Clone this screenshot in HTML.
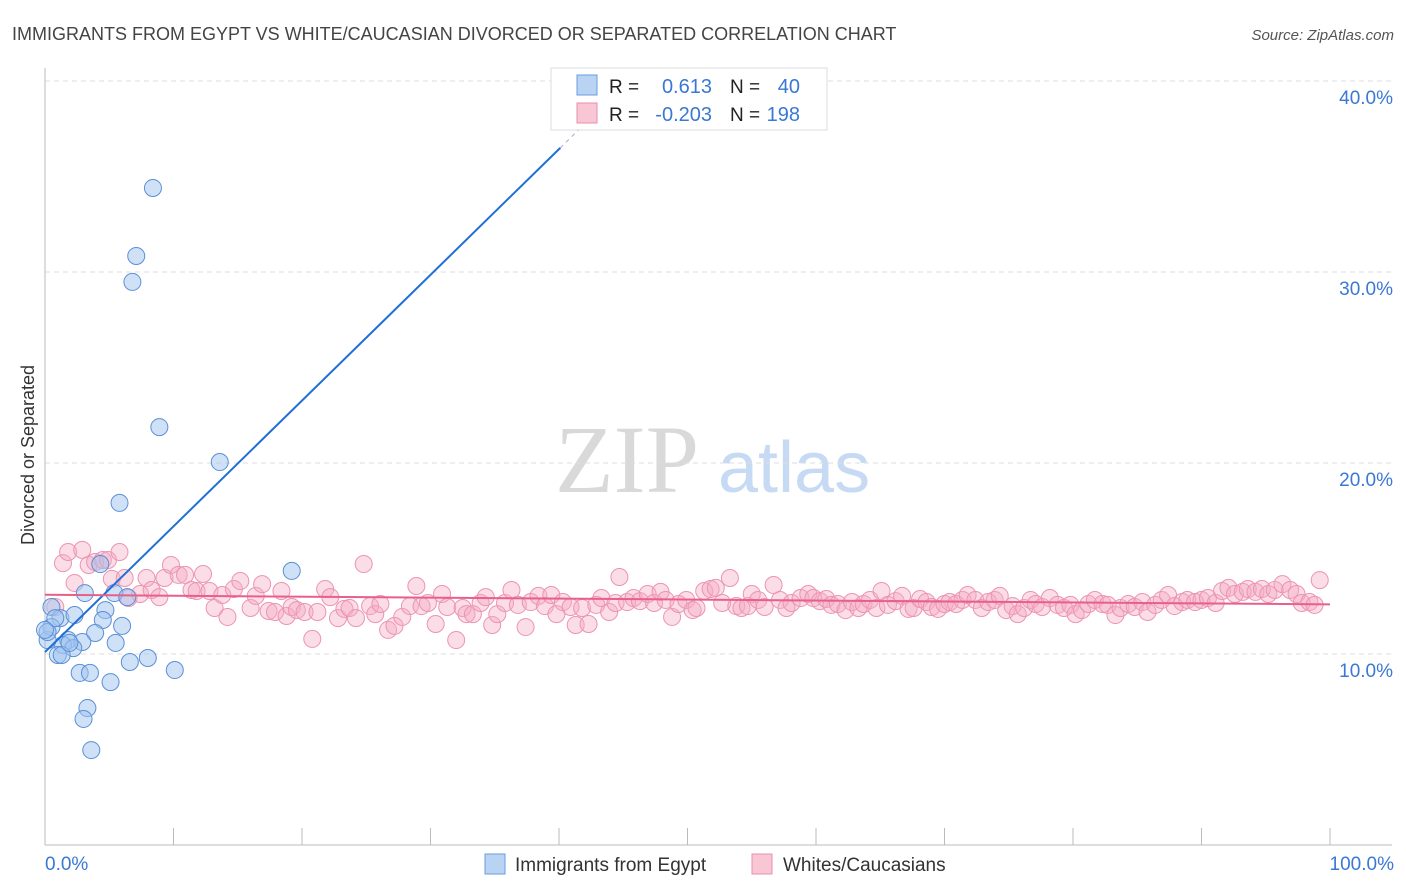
<!DOCTYPE html>
<html><head><meta charset="utf-8"><style>
body{margin:0;background:#fff;}
svg{display:block;font-family:"Liberation Sans",sans-serif;}
</style></head><body>
<svg id="chart" width="1406" height="892" viewBox="0 0 1406 892">
<text x="12" y="40" font-size="18" fill="#444">IMMIGRANTS FROM EGYPT VS WHITE/CAUCASIAN DIVORCED OR SEPARATED CORRELATION CHART</text>
<text x="1394" y="40" font-size="15" fill="#555" font-style="italic" text-anchor="end">Source: ZipAtlas.com</text>
<g>
<text x="555" y="492" font-size="96" font-family="Liberation Serif,serif" fill="#d9d9d9">ZIP</text>
<text x="718" y="492" font-size="72" fill="#c6daf3">atlas</text>
</g>
<g id="grid"></g>
<g id="axes"></g>
<text transform="translate(34,455) rotate(-90)" font-size="18" fill="#333" text-anchor="middle">Divorced or Separated</text>
<g id="pink"></g>
<g id="blue"></g>
<g id="lines"></g>
<g>
<rect x="551" y="68" width="276" height="62" fill="#fff" stroke="#ddd"/>
<rect x="577" y="75" width="20" height="20" fill="#b9d3f3" stroke="#6b9be0"/>
<rect x="577" y="103" width="20" height="20" fill="#f9c6d6" stroke="#ea8fad"/>
<text x="609" y="93" font-size="19" fill="#222">R = </text><text x="712" y="93" font-size="20" fill="#3a78d4" text-anchor="end">0.613</text>
<text x="730" y="93" font-size="19" fill="#222">N = </text><text x="800" y="93" font-size="20" fill="#3a78d4" text-anchor="end">40</text>
<text x="609" y="121" font-size="19" fill="#222">R = </text><text x="712" y="121" font-size="20" fill="#3a78d4" text-anchor="end">-0.203</text>
<text x="730" y="121" font-size="19" fill="#222">N = </text><text x="800" y="121" font-size="20" fill="#3a78d4" text-anchor="end">198</text>
</g>
<g>
<rect x="485" y="854" width="20" height="20" fill="#b9d3f3" stroke="#6b9be0"/>
<text x="515" y="871" font-size="19" fill="#333">Immigrants from Egypt</text>
<rect x="752" y="854" width="20" height="20" fill="#f9c6d6" stroke="#ea8fad"/>
<text x="783" y="871" font-size="19" fill="#333">Whites/Caucasians</text>
</g>
</svg>
<script>
const yTicks=[10,20,30,40];
const yTickLabels=["10.0%","20.0%","30.0%","40.0%"];
const xTickLabels=["0.0%","100.0%"];
const blueX=[8.4,7.1,6.8,8.9,13.6,5.8,19.2,4.3,3.1,5.4,0.5,6.4,4.7,1.2,2.3,4.5,6.0,3.9,1.8,2.9,1.4,2.2,0.2,1.0,5.5,1.3,6.6,8.0,10.1,2.7,3.5,5.1,3.3,3.0,3.6,0.5,0.2,0.8,0.0,1.9];
const blueY=[34.40,30.84,29.48,21.88,20.05,17.91,14.35,14.71,13.19,13.19,12.46,12.98,12.30,11.88,12.04,11.78,11.47,11.10,10.73,10.63,10.47,10.31,10.73,9.95,10.58,9.95,9.58,9.79,9.16,9.01,9.01,8.53,7.17,6.60,4.97,11.41,11.15,11.88,11.26,10.58];
const pinkX=[0.8,1.4,1.8,2.3,2.9,3.4,3.9,4.5,4.9,5.2,5.8,6.2,6.5,7.4,7.9,8.3,8.9,9.3,9.8,10.4,10.9,11.4,11.8,12.3,12.8,13.2,13.8,14.2,14.7,15.2,16.0,16.4,16.9,17.4,17.9,18.4,18.8,19.2,19.6,20.2,20.8,21.2,21.8,22.2,22.8,23.3,23.7,24.2,24.8,25.3,25.7,26.1,26.7,27.2,27.8,28.4,28.9,29.3,29.8,30.4,30.9,31.3,32.0,32.5,32.8,33.3,33.9,34.3,34.8,35.2,35.8,36.3,36.8,37.4,37.8,38.4,38.9,39.4,39.8,40.3,40.9,41.3,41.8,42.3,42.9,43.3,43.9,44.4,44.7,45.3,45.8,46.3,46.9,47.4,47.9,48.3,48.8,49.3,49.9,50.4,50.7,51.3,51.8,52.2,52.7,53.3,53.8,54.2,54.7,55.0,55.5,56.0,56.7,57.2,57.7,58.1,58.8,59.4,59.8,60.3,60.8,61.2,61.7,62.3,62.8,63.3,63.7,64.2,64.7,65.1,65.6,66.2,66.7,67.2,67.6,68.1,68.6,69.0,69.5,70.0,70.4,70.9,71.4,71.8,72.4,72.9,73.4,73.9,74.3,74.8,75.3,75.7,76.2,76.7,77.1,77.6,78.2,78.8,79.3,79.8,80.2,80.7,81.2,81.7,82.3,82.7,83.3,83.7,84.3,84.8,85.4,85.8,86.4,86.9,87.4,87.9,88.5,88.9,89.5,90.0,90.5,91.1,91.6,92.1,92.6,93.2,93.6,94.2,94.7,95.2,95.7,96.3,96.9,97.4,97.8,98.4,98.8,99.2];
const pinkY=[12.46,14.76,15.34,13.72,15.45,14.66,14.82,14.92,14.92,13.93,15.34,13.98,12.93,13.14,13.98,13.35,12.98,13.98,14.66,14.14,14.14,13.35,13.30,14.19,13.30,12.41,13.09,11.94,13.40,13.82,12.41,13.04,13.66,12.25,12.20,13.30,11.99,12.46,12.30,12.20,10.79,12.20,13.40,12.98,11.88,12.36,12.41,11.88,14.71,12.51,12.09,12.62,11.26,11.47,11.94,12.51,13.56,12.51,12.67,11.57,13.14,12.46,10.73,12.41,12.09,12.09,12.67,12.98,11.52,12.09,12.67,13.35,12.57,11.41,12.72,13.04,12.51,13.09,12.09,12.72,12.46,11.52,12.41,11.57,12.57,12.93,12.20,12.67,14.03,12.72,12.93,12.77,13.14,12.67,13.25,12.83,11.94,12.62,12.83,12.30,12.41,13.30,13.40,13.46,12.67,13.98,12.51,12.41,12.51,13.14,12.83,12.46,13.61,12.83,12.41,12.67,12.93,13.14,12.93,12.77,12.88,12.57,12.62,12.30,12.72,12.41,12.62,12.83,12.41,13.30,12.57,12.77,13.04,12.36,12.41,12.88,12.72,12.46,12.36,12.62,12.72,12.62,12.83,13.09,12.83,12.41,12.72,12.83,13.04,12.30,12.51,12.09,12.41,12.83,12.62,12.46,12.93,12.57,12.41,12.57,12.09,12.30,12.62,12.83,12.62,12.57,12.04,12.41,12.62,12.46,12.72,12.20,12.57,12.83,13.09,12.51,12.72,12.83,12.72,12.83,12.93,12.67,13.30,13.46,13.14,13.25,13.40,13.25,13.40,13.14,13.35,13.66,13.35,13.14,12.67,12.72,12.57,13.87];
const blueTrend=[10.1,36.5];
const blueTrendX=[0,40.1];
const pinkTrend=[13.1,12.6];

const NS="http://www.w3.org/2000/svg";
const X=v=>45+v*12.85;
const Y=v=>845-v*19.1;
function mk(t,a,p){const e=document.createElementNS(NS,t);for(const k in a)e.setAttribute(k,a[k]);p.appendChild(e);return e;}
const grid=document.getElementById('grid'),axes=document.getElementById('axes');
yTicks.forEach((t,i)=>{
 const l=mk('line',{x1:45,x2:1392,y1:Y(t),y2:Y(t),stroke:'#ddd','stroke-dasharray':'5,4'},grid);
 
 
 const tx=mk('text',{x:1393,y:Y(t)+23,'font-size':19,fill:'#3a78d4','text-anchor':'end'},axes);
 tx.textContent=yTickLabels[i];
 
 
});
mk('line',{x1:45,x2:45,y1:68,y2:845,stroke:'#bbb'},axes);
mk('line',{x1:45,x2:1392,y1:845,y2:845,stroke:'#bbb'},axes);
for(let i=1;i<=10;i++){const t=mk('line',{x1:X(i*10),x2:X(i*10),y1:828,y2:845,stroke:'#bbb'},axes);
 
 }
const x0=mk('text',{x:45,y:870,'font-size':19,fill:'#3a78d4'},axes);x0.textContent=xTickLabels[0];


const x1=mk('text',{x:1394,y:870,'font-size':19,fill:'#3a78d4','text-anchor':'end'},axes);x1.textContent=xTickLabels[1];


const pg=document.getElementById('pink');
pinkX.forEach((v,i)=>{const c=mk('circle',{cx:X(v),cy:Y(pinkY[i]),r:8.5,fill:'rgba(246,170,196,0.4)',stroke:'#ec94b1','stroke-width':1},pg);
 
 });
const bg=document.getElementById('blue');
blueX.forEach((v,i)=>{const c=mk('circle',{cx:X(v),cy:Y(blueY[i]),r:8.5,fill:'rgba(160,196,240,0.5)',stroke:'#5b8fd6','stroke-width':1},bg);
 
 });
const lg=document.getElementById('lines');
const slope=(blueTrend[1]-blueTrend[0])/(blueTrendX[1]-blueTrendX[0]);
const ext=mk('line',{x1:X(blueTrendX[1]),y1:Y(blueTrend[1]),x2:X(blueTrendX[1]+4),y2:Y(blueTrend[1]+slope*4),stroke:'#aac',"stroke-dasharray":'4,4'},lg);


const bl=mk('line',{x1:X(blueTrendX[0]),y1:Y(blueTrend[0]),x2:X(blueTrendX[1]),y2:Y(blueTrend[1]),stroke:'#1f6fd6','stroke-width':2},lg);


const pl=mk('line',{x1:X(0),y1:Y(pinkTrend[0]),x2:X(100),y2:Y(pinkTrend[1]),stroke:'#e8608a','stroke-width':2},lg);


</script>
</body></html>
